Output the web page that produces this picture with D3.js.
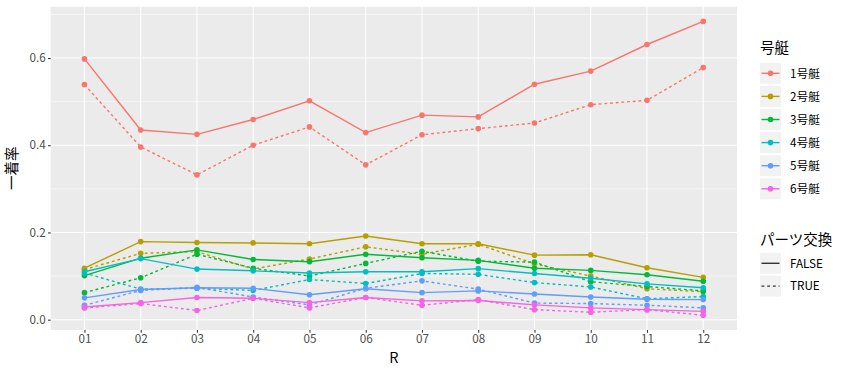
<!DOCTYPE html>
<html><head><meta charset="utf-8">
<script src="https://cdn.jsdelivr.net/npm/d3@7"></script>
<style>body{margin:0;background:#fff;} text{font-family:"Noto Sans CJK JP","Noto Sans",sans-serif;}</style>
</head><body><svg id="c" width="847" height="375"></svg>
<script>
const categories = ["01","02","03","04","05","06","07","08","09","10","11","12"];
const boats = ["1号艇","2号艇","3号艇","4号艇","5号艇","6号艇"];
const swapLevels = ["FALSE","TRUE"];
const colors = ["#F8766D","#B79F00","#00BA38","#00BFC4","#619CFF","#F564E3"];
const yTicks = [0.0,0.2,0.4,0.6];

const boat1False = [0.598,0.435,0.425,0.459,0.502,0.429,0.469,0.465,0.540,0.570,0.631,0.684];
const boat1True  = [0.539,0.396,0.332,0.400,0.442,0.355,0.424,0.438,0.451,0.493,0.503,0.578];
const boat2False = [0.118,0.179,0.177,0.176,0.174,0.192,0.174,0.174,0.148,0.149,0.119,0.097];
const boat2True  = [0.115,0.152,0.156,0.116,0.139,0.167,0.150,0.173,0.128,0.100,0.071,0.064];
const boat3False = [0.101,0.141,0.160,0.138,0.133,0.150,0.142,0.136,0.118,0.113,0.103,0.088];
const boat3True  = [0.062,0.096,0.150,0.118,0.100,0.129,0.157,0.134,0.132,0.087,0.076,0.066];
const boat4False = [0.110,0.140,0.116,0.112,0.107,0.110,0.110,0.117,0.106,0.095,0.082,0.073];
const boat4True  = [0.107,0.070,0.072,0.067,0.092,0.083,0.106,0.104,0.085,0.075,0.048,0.053];
const boat5False = [0.050,0.069,0.073,0.072,0.057,0.071,0.062,0.066,0.059,0.052,0.047,0.046];
const boat5True  = [0.033,0.067,0.074,0.052,0.034,0.072,0.089,0.070,0.038,0.037,0.033,0.027];
const boat6False = [0.029,0.039,0.051,0.049,0.039,0.051,0.043,0.044,0.034,0.027,0.023,0.019];
const boat6True  = [0.027,0.037,0.021,0.049,0.027,0.051,0.033,0.046,0.023,0.017,0.023,0.010];

const seriesValues = [
  [boat1False, boat1True],[boat2False, boat2True],[boat3False, boat3True],
  [boat4False, boat4True],[boat5False, boat5True],[boat6False, boat6True]
];
const series = [];
boats.forEach((b,i)=>swapLevels.forEach((s,j)=>series.push({boat:b, ci:i, swap:s, values:seriesValues[i][j]})));

const svg = d3.select("#c");
const P = {l:50.7, r:737, t:6.7, b:330};
const n = categories.length;
const step = (P.r-P.l)/(n-1+1.2);
const x = d3.scalePoint().domain(categories).range([P.l+0.6*step, P.r-0.6*step]);
const all = series.flatMap(s=>s.values);
const mn = d3.min(all), mx = d3.max(all), ex = (mx-mn)*0.05;
const y = d3.scaleLinear().domain([mn-ex, mx+ex]).range([P.b, P.t]);

svg.append("rect").attr("x",P.l).attr("y",P.t).attr("width",P.r-P.l).attr("height",P.b-P.t).attr("fill","#EBEBEB");
// minor grid
const minor = [0.1,0.3,0.5,0.7].filter(v=>v>=y.domain()[0]&&v<=y.domain()[1]);
svg.selectAll(".mg").data(minor).enter().append("line")
  .attr("x1",P.l).attr("x2",P.r).attr("y1",d=>y(d)).attr("y2",d=>y(d))
  .attr("stroke","#fff").attr("stroke-width",0.55);
svg.selectAll(".yg").data(yTicks).enter().append("line")
  .attr("x1",P.l).attr("x2",P.r).attr("y1",d=>y(d)).attr("y2",d=>y(d))
  .attr("stroke","#fff").attr("stroke-width",1.07);
svg.selectAll(".xg").data(categories).enter().append("line")
  .attr("y1",P.t).attr("y2",P.b).attr("x1",d=>x(d)).attr("x2",d=>x(d))
  .attr("stroke","#fff").attr("stroke-width",1.07);

// axes
const yAxis = d3.axisLeft(y).tickValues(yTicks).tickFormat(d3.format(".1f")).tickSize(2.75).tickPadding(2.2);
const gy = svg.append("g").attr("transform",`translate(${P.l},0)`).call(yAxis);
const xAxis = d3.axisBottom(x).tickSize(2.75).tickPadding(2.2);
const gx = svg.append("g").attr("transform",`translate(0,${P.b})`).call(xAxis);
[gy,gx].forEach(g=>{
  g.select(".domain").remove();
  g.selectAll(".tick line").attr("stroke","#333").attr("stroke-width",1.07);
  g.selectAll(".tick text").attr("fill","#4D4D4D").style("font-size","11.7px")
   .style("font-family",'"Noto Sans CJK JP","Noto Sans",sans-serif');
});

svg.append("text").attr("x",(P.l+P.r)/2).attr("y",363).attr("text-anchor","middle")
  .style("font-size","14.5px").attr("fill","#000").text("R");
svg.append("text").attr("transform",`translate(17,${(P.t+P.b)/2}) rotate(-90)`).attr("text-anchor","middle")
  .style("font-size","14.5px").attr("fill","#000").text("一着率");

const line = d3.line().x((d,i)=>x(categories[i])).y(d=>y(d));
const dash = "2.85,2.85";
svg.append("g").selectAll("path").data(series).enter().append("path")
  .attr("d",d=>line(d.values)).attr("fill","none")
  .attr("stroke",d=>colors[d.ci]).attr("stroke-width",1.42)
  .attr("stroke-dasharray",d=>d.swap==="TRUE"?dash:null);
const pts = svg.append("g");
series.forEach(s=>{
  pts.selectAll(null).data(s.values).enter().append("circle")
    .attr("cx",(d,i)=>x(categories[i])).attr("cy",d=>y(d)).attr("r",2.8)
    .attr("fill",colors[s.ci]);
});

// legends
const lx = 760, kw = 21, kh = 21;
svg.append("text").attr("x",lx).attr("y",53).style("font-size","14.5px").text("号艇");
boats.forEach((b,i)=>{
  const cy = 73.3 + i*23.1;
  svg.append("rect").attr("x",lx).attr("y",cy-kh/2).attr("width",kw).attr("height",kh).attr("fill","#F2F2F2");
  svg.append("line").attr("x1",lx+1.5).attr("x2",lx+kw-1.5).attr("y1",cy).attr("y2",cy)
    .attr("stroke",colors[i]).attr("stroke-width",1.42);
  svg.append("circle").attr("cx",lx+kw/2).attr("cy",cy).attr("r",2.8).attr("fill",colors[i]);
  svg.append("text").attr("x",lx+kw+9).attr("y",cy+4.2).style("font-size","11.7px").attr("fill","#000").text(b);
});
svg.append("text").attr("x",lx).attr("y",245).style("font-size","14.5px").text("パーツ交換");
swapLevels.forEach((s,i)=>{
  const cy = 263.3 + i*22.8;
  svg.append("rect").attr("x",lx).attr("y",cy-kh/2).attr("width",kw).attr("height",kh).attr("fill","#F2F2F2");
  svg.append("line").attr("x1",lx+1.5).attr("x2",lx+kw-1.5).attr("y1",cy).attr("y2",cy)
    .attr("stroke","#333").attr("stroke-width",1.42).attr("stroke-dasharray",s==="TRUE"?dash:null);
  svg.append("text").attr("x",lx+kw+9).attr("y",cy+4.2).style("font-size","11.7px").attr("fill","#000").text(s);
});
</script></body></html>
